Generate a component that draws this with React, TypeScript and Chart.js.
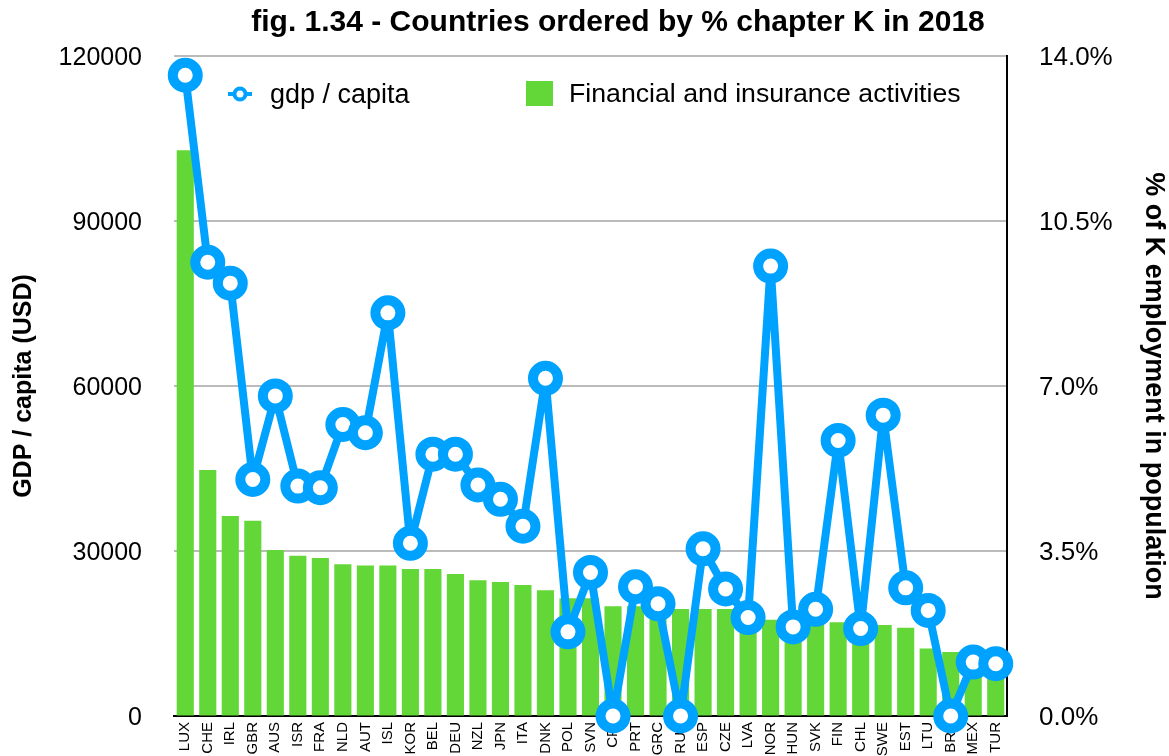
import React, { useEffect, useRef } from 'react';
import { Chart, registerables } from 'chart.js';

Chart.register(...registerables);

const TITLE = 'fig. 1.34 - Countries ordered by % chapter K in 2018';
const LEFT_AXIS_TITLE = 'GDP / capita (USD)';
const RIGHT_AXIS_TITLE = '% of K employment in population';
const LINE_LABEL = 'gdp / capita';
const BAR_LABEL = 'Financial and insurance activities';

const countries = [
  'LUX', 'CHE', 'IRL', 'GBR', 'AUS', 'ISR', 'FRA', 'NLD', 'AUT', 'ISL',
  'KOR', 'BEL', 'DEU', 'NZL', 'JPN', 'ITA', 'DNK', 'POL', 'SVN', 'CRI',
  'PRT', 'GRC', 'RUS', 'ESP', 'CZE', 'LVA', 'NOR', 'HUN', 'SVK', 'FIN',
  'CHL', 'SWE', 'EST', 'LTU', 'BRA', 'MEX', 'TUR',
];

const gdpPerCapita = [
  116500, 82500, 78700, 43000, 58200, 41800, 41500, 53000, 51500, 73300,
  31400, 47600, 47600, 42000, 39400, 34500, 61400, 15300, 26100, 0,
  23500, 20400, 0, 30400, 23100, 17900, 81800, 16200, 19400, 50100,
  15900, 54700, 23300, 19200, 0, 9800, 9500,
];

const kSharePct = [
  12.0, 5.22, 4.24, 4.14, 3.52, 3.40, 3.35, 3.22, 3.19, 3.19,
  3.12, 3.12, 3.01, 2.88, 2.84, 2.78, 2.67, 2.50, 2.50, 2.33,
  2.33, 2.27, 2.27, 2.27, 2.27, 2.10, 2.04, 2.00, 2.00, 1.99,
  1.95, 1.93, 1.87, 1.43, 1.36, 1.33, 1.30,
];

const gdpAxis = { min: 0, max: 120000, step: 30000 };
const pctAxis = { min: 0, max: 14, step: 3.5 };

const BLUE = '#00A2FF';
const GREEN = '#63D737';
const FONT = '"Liberation Sans", Arial, Helvetica, sans-serif';

const overlayPlugin = {
  id: 'overlay',
  afterDraw(chart: any) {
    const ctx = chart.ctx as CanvasRenderingContext2D;
    ctx.save();
    // title
    ctx.fillStyle = '#000';
    ctx.font = `bold 30px ${FONT}`;
    ctx.textAlign = 'center';
    ctx.textBaseline = 'alphabetic';
    ctx.fillText(TITLE, 618, 31);

    // legend: line item
    ctx.strokeStyle = BLUE;
    ctx.lineWidth = 4;
    ctx.beginPath();
    ctx.moveTo(228, 94);
    ctx.lineTo(252, 94);
    ctx.stroke();
    ctx.beginPath();
    ctx.arc(240, 94, 5.5, 0, Math.PI * 2);
    ctx.fillStyle = '#fff';
    ctx.fill();
    ctx.stroke();
    ctx.fillStyle = '#000';
    ctx.font = `27px ${FONT}`;
    ctx.textAlign = 'left';
    ctx.fillText(LINE_LABEL, 270, 103);

    // legend: bar item
    ctx.fillStyle = GREEN;
    ctx.fillRect(526, 81, 27, 25);
    ctx.fillStyle = '#000';
    ctx.font = `26.7px ${FONT}`;
    ctx.fillText(BAR_LABEL, 569, 102);
    ctx.restore();
  },
};

export default function App() {
  const ref = useRef<HTMLCanvasElement>(null);

  useEffect(() => {
    const canvas = ref.current;
    if (!canvas) return;
    const chart = new Chart(canvas, {
      type: 'bar',
      data: {
        labels: countries,
        datasets: [
          {
            type: 'line',
            label: LINE_LABEL,
            data: gdpPerCapita,
            yAxisID: 'y',
            borderColor: BLUE,
            borderWidth: 8,
            borderJoinStyle: 'round',
            pointRadius: 12.5,
            pointBorderWidth: 10,
            pointBackgroundColor: '#fff',
            pointBorderColor: BLUE,
            pointHoverRadius: 12.5,
            tension: 0,
            order: 0,
            clip: false,
          } as any,
          {
            type: 'bar',
            label: BAR_LABEL,
            data: kSharePct,
            yAxisID: 'y1',
            backgroundColor: GREEN,
            barPercentage: 0.76,
            categoryPercentage: 1,
            order: 1,
          } as any,
        ],
      },
      options: {
        animation: false,
        responsive: false,
        devicePixelRatio: 1,
        layout: { autoPadding: false, padding: { top: 56, left: 0, right: 0, bottom: 0 } },
        plugins: {
          legend: { display: false },
          title: { display: false },
          tooltip: { enabled: false },
        },
        scales: {
          x: {
            type: 'category',
            offset: true,
            grid: { drawOnChartArea: false, drawTicks: false },
            border: { display: true, color: '#000', width: 2 },
            ticks: {
              autoSkip: false,
              maxRotation: 90,
              minRotation: 90,
              padding: 6,
              color: '#000',
              font: { family: FONT, size: 15 },
            },
            afterFit: (s: any) => { s.height = 40; s.paddingLeft = 0; s.paddingRight = 0; },
          },
          y: {
            position: 'left',
            min: gdpAxis.min,
            max: gdpAxis.max,
            ticks: {
              stepSize: gdpAxis.step,
              padding: 32,
              labelOffset: 2,
              color: '#000',
              font: { family: FONT, size: 25 },
              callback: (v: any) => String(v),
            },
            grid: {
              color: (c: any) => (c.tick && c.tick.value === 0 ? 'rgba(0,0,0,0)' : '#BBBBBB'),
              lineWidth: 2,
              drawTicks: false,
            },
            border: { display: false },
            title: {
              display: true,
              text: LEFT_AXIS_TITLE,
              color: '#000',
              font: { family: FONT, size: 25, weight: 'bold' },
              padding: { top: 9, bottom: 0 },
            },
            afterFit: (s: any) => { s.width = 174; s.paddingTop = 0; s.paddingBottom = 0; },
          },
          y1: {
            position: 'right',
            min: pctAxis.min,
            max: pctAxis.max,
            ticks: {
              stepSize: pctAxis.step,
              padding: 32,
              labelOffset: 2,
              color: '#000',
              font: { family: FONT, size: 26 },
              callback: (v: any) => Number(v).toFixed(1) + '%',
            },
            grid: { drawOnChartArea: false, drawTicks: false },
            border: { display: true, color: '#000', width: 2 },
            title: {
              display: true,
              text: RIGHT_AXIS_TITLE,
              color: '#000',
              font: { family: FONT, size: 27, weight: 'bold' },
              padding: { top: -1, bottom: 0 },
            },
            afterFit: (s: any) => { s.width = 162; s.paddingTop = 0; s.paddingBottom = 0; },
          },
        },
      } as any,
      plugins: [overlayPlugin],
    });
    return () => chart.destroy();
  }, []);

  return (
    <div style={{ position: 'absolute', left: 0, top: 0, width: 1169, height: 756, background: '#fff' }}>
      <canvas ref={ref} width={1169} height={756} style={{ display: 'block' }} />
    </div>
  );
}
